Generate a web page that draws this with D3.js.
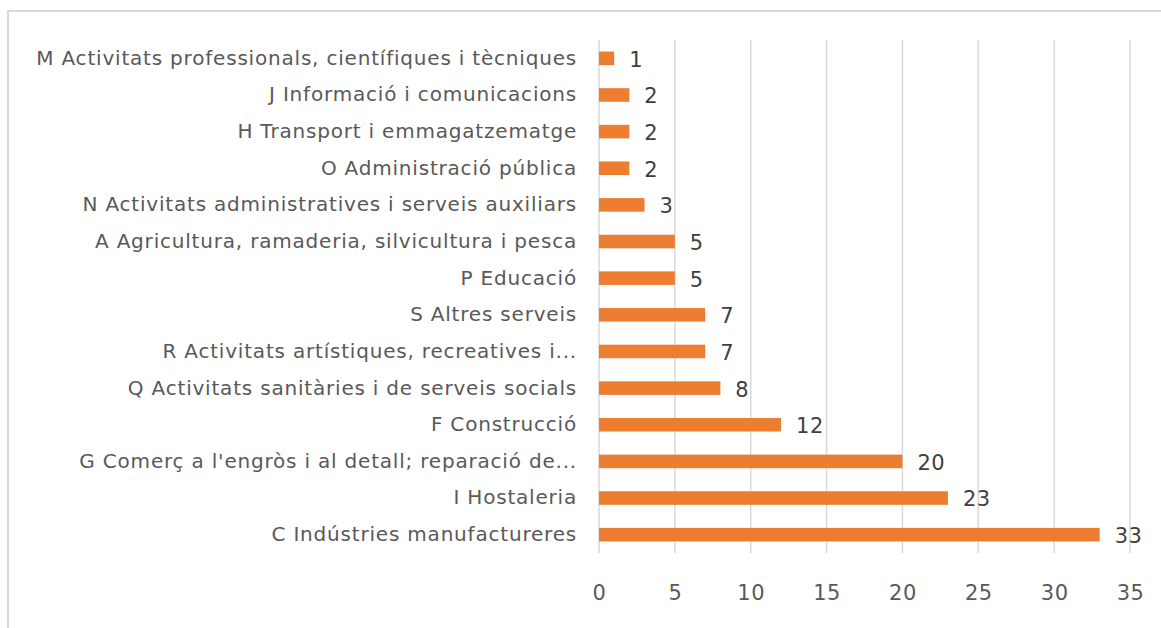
<!DOCTYPE html>
<html>
<head>
<meta charset="utf-8">
<script src="https://cdn.jsdelivr.net/npm/d3@7"></script>
<style>
  body { margin: 0; background: #fff; }
  text { font-family: "DejaVu Sans", sans-serif; }
</style>
</head>
<body>
<div id="chart"></div>
<script>
const categories = [
  "M Activitats professionals, científiques i tècniques",
  "J Informació i comunicacions",
  "H Transport i emmagatzematge",
  "O Administració pública",
  "N Activitats administratives i serveis auxiliars",
  "A Agricultura, ramaderia, silvicultura i pesca",
  "P Educació",
  "S Altres serveis",
  "R Activitats artístiques, recreatives i...",
  "Q Activitats sanitàries i de serveis socials",
  "F Construcció",
  "G Comerç a l'engròs i al detall; reparació de...",
  "I Hostaleria",
  "C Indústries manufactureres"
];
const values = [1, 2, 2, 2, 3, 5, 5, 7, 7, 8, 12, 20, 23, 33];
const ticks = [0, 5, 10, 15, 20, 25, 30, 35];

const width = 1161;
const height = 628;
const margin = { top: 40, right: 31, bottom: 75, left: 599 };
const font = "'DejaVu Sans', sans-serif";

const svg = d3.select("#chart")
  .append("svg")
  .attr("width", width)
  .attr("height", height);

// chart frame (only top and left visible)
svg.append("line")
  .attr("x1", 8).attr("x2", width).attr("y1", 11).attr("y2", 11)
  .attr("stroke", "#d9d9d9").attr("stroke-width", 2);
svg.append("line")
  .attr("x1", 8).attr("x2", 8).attr("y1", 10).attr("y2", height)
  .attr("stroke", "#d9d9d9").attr("stroke-width", 2);

const x = d3.scaleLinear()
  .domain([0, 35])
  .range([margin.left, width - margin.right]);

const y = d3.scaleBand()
  .domain(categories)
  .range([margin.top, height - margin.bottom])
  .paddingInner(0.63)
  .paddingOuter(0.315);

// gridlines
svg.append("g")
  .selectAll("line")
  .data(ticks)
  .join("line")
  .attr("x1", d => x(d)).attr("x2", d => x(d))
  .attr("y1", margin.top).attr("y2", height - margin.bottom)
  .attr("stroke", "#d9d9d9")
  .attr("stroke-width", 1.5);

// x tick labels
const xAxis = svg.append("g")
  .attr("transform", "translate(0," + (height - margin.bottom) + ")")
  .call(d3.axisBottom(x).tickValues(ticks).tickSize(0).tickPadding(32));
xAxis.select(".domain").remove();
xAxis.selectAll("text")
  .attr("font-size", 21)
  .attr("letter-spacing", 0.5)
  .attr("fill", "#595959")
  .style("font-family", font);

// category labels
const yAxis = svg.append("g")
  .attr("transform", "translate(" + margin.left + ",0)")
  .call(d3.axisLeft(y).tickSize(0).tickPadding(22));
yAxis.select(".domain").remove();
yAxis.selectAll("text")
  .attr("font-size", 20)
  .attr("letter-spacing", 0.8)
  .attr("fill", "#595959")
  .style("font-family", font);

// bars
svg.append("g")
  .selectAll("rect")
  .data(values)
  .join("rect")
  .attr("x", x(0))
  .attr("y", (d, i) => y(categories[i]))
  .attr("width", d => x(d) - x(0))
  .attr("height", y.bandwidth())
  .attr("fill", "#ed7d31");

// value labels
svg.append("g")
  .selectAll("text")
  .data(values)
  .join("text")
  .attr("x", d => x(d) + 15)
  .attr("y", (d, i) => y(categories[i]) + y.bandwidth() / 2)
  .attr("dy", "0.4em")
  .attr("font-size", 21)
  .attr("letter-spacing", 0.5)
  .attr("fill", "#404040")
  .text(d => d);
</script>
</body>
</html>
